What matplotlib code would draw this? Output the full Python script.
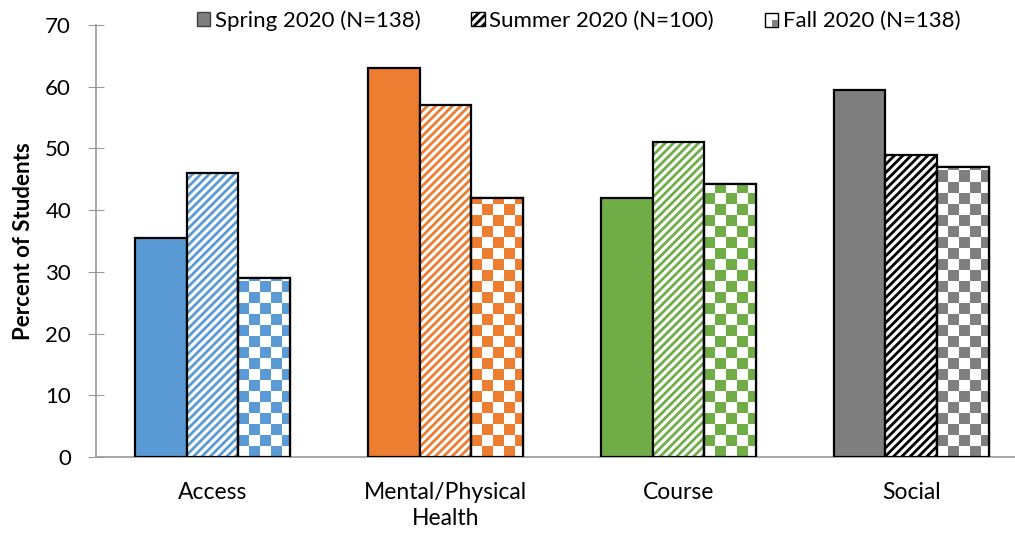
import numpy as np
import matplotlib
matplotlib.use("Agg")
import matplotlib.pyplot as plt
from matplotlib.patches import Patch, Rectangle

plt.rcParams['font.family'] = ['Lato', 'DejaVu Sans']
plt.rcParams['hatch.linewidth'] = 2.0

categories = ['Access', 'Mental/Physical\nHealth', 'Course', 'Social']
spring = [35.5, 63.0, 42.0, 59.4]
summer = [46.0, 57.0, 51.0, 49.0]
fall = [29.0, 42.0, 44.2, 47.0]
series_names = ['Spring 2020 (N=138)', 'Summer 2020 (N=100)', 'Fall 2020 (N=138)']

colors = ['#5B9BD5', '#ED7D31', '#70AD47', '#7F7F7F']
stripe_colors = ['#5B9BD5', '#ED7D31', '#70AD47', '#000000']

fig = plt.figure(figsize=(10.15, 5.37), dpi=100)
ax = fig.add_axes([0.0946, 0.149, 0.918, 0.8045])

x = np.arange(len(categories))
w = 0.222

# spring: solid bars
ax.bar(x - w, spring, w, color=colors, edgecolor='black', linewidth=1.6, zorder=3)

# summer: diagonal stripes on white
ax.bar(x, summer, w, color='white', edgecolor=stripe_colors, hatch='////', linewidth=0, zorder=3)
ax.bar(x, summer, w, fill=False, edgecolor='black', linewidth=1.6, zorder=4)

# fall: checkerboard, drawn as images clipped to each bar
sq_x, sq_y = 0.047, 1.78
fall_bars = ax.bar(x + w, fall, w, color='white', edgecolor='black', linewidth=1.6, zorder=3)
for i, rect in enumerate(fall_bars):
    x0 = rect.get_x()
    h = rect.get_height()
    nx = int(np.ceil(w / sq_x))
    ny = int(np.ceil(h / sq_y))
    board = (np.add.outer(np.arange(ny), np.arange(nx)) % 2).astype(float)
    cmap = matplotlib.colors.ListedColormap(['white', colors[i]])
    im = ax.imshow(board, cmap=cmap, origin='lower', aspect='auto', interpolation='nearest',
                   extent=(x0, x0 + nx * sq_x, 0, ny * sq_y), zorder=3.5)
    im.set_clip_path(rect)
ax.bar(x + w, fall, w, fill=False, edgecolor='black', linewidth=1.6, zorder=4)

ax.set_xlim(-0.5, 3.5)
ax.set_ylim(0, 70)
ax.set_yticks(np.arange(0, 71, 10))
ax.set_xticks(x)
ax.set_xticklabels(categories, fontsize=16.5, linespacing=1.3)
ax.tick_params(axis='x', length=0, pad=18)
ax.tick_params(axis='y', direction='inout', length=12, color='#9A9A9A', labelsize=16, pad=12)

for s in ['top', 'right']:
    ax.spines[s].set_visible(False)
ax.spines['left'].set_color('#9A9A9A')
ax.spines['bottom'].set_color('#9A9A9A')
ax.spines['left'].set_linewidth(1.2)
ax.spines['bottom'].set_linewidth(1.2)

ax.set_ylabel('Percent of Students', fontsize=16, fontweight='bold', labelpad=8)


class CheckerHandler:
    def legend_artist(self, legend, orig_handle, fontsize, handlebox):
        x0, y0 = handlebox.xdescent, handlebox.ydescent
        wd, ht = handlebox.width, handlebox.height
        bg = Rectangle((x0, y0), wd, ht, facecolor='white', edgecolor='black', lw=1,
                       transform=handlebox.get_transform())
        q = Rectangle((x0 + wd / 2, y0), wd / 2, ht / 2, facecolor='#7F7F7F', lw=0,
                      transform=handlebox.get_transform())
        handlebox.add_artist(bg)
        handlebox.add_artist(q)
        return bg


class CheckerPatch(Patch):
    pass


handles = [
    Patch(facecolor='#7F7F7F', edgecolor='#404040', lw=1),
    Patch(facecolor='white', edgecolor='black', hatch='////', lw=1),
    CheckerPatch(facecolor='white', edgecolor='black'),
]
fig.legend(handles, series_names, loc='center', bbox_to_anchor=(0.57, 0.962), ncol=3,
           frameon=False, fontsize=16, handlelength=0.6, handleheight=0.6, handletextpad=0.2,
           columnspacing=2.3, handler_map={CheckerPatch: CheckerHandler()})

fig.savefig('out.png', dpi=100)
